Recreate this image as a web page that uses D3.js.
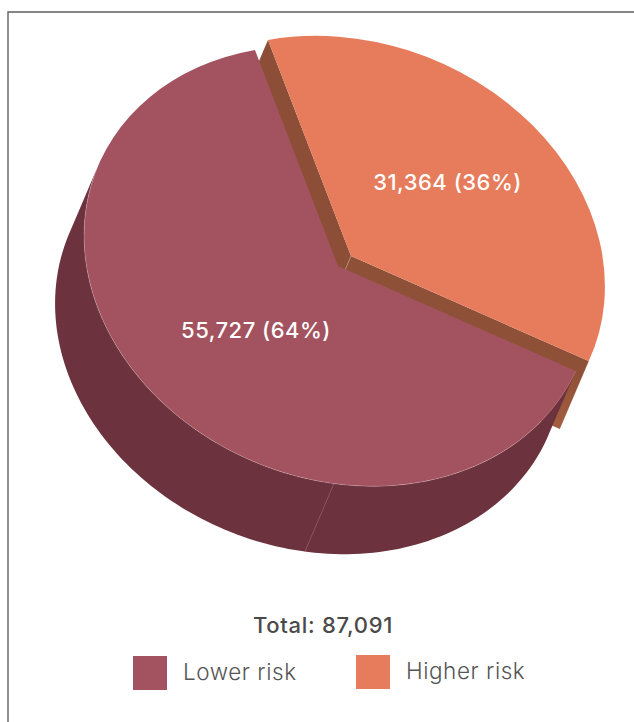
<!DOCTYPE html>
<html>
<head>
<meta charset="utf-8">
<script src="https://cdn.jsdelivr.net/npm/d3@7"></script>
<style>
  html, body { margin: 0; padding: 0; background: #fff; }
  svg { display: block; }
  text { font-family: Inter, "Open Sans", sans-serif; }
</style>
</head>
<body>
<svg id="chart" width="634" height="722"></svg>
<script>
// Patients by risk group
const categories = ["Higher risk", "Lower risk"];
const values = [31364, 55727];
const totalLabel = "Total: 87,091";
const legendOrder = ["Lower risk", "Higher risk"];

const topColors = ["#E67C5B", "#A35360"];
const wallColors = ["#8C4E36", "#6C323E"];
const labelRadii = [55, 47];
const labelNudge = [[-3.5, -2], [3.5, 3]];

// Tilted disc: the pie is laid out on a circle, then squashed and rotated.
const R = 100;
const tilt = 22;
const scaleX = 2.6, scaleY = 2.13;
const centre = [338, 266];
const explode = [[13, -10], [0, 0]];
const depth = [-29, 68];
const firstAngle = -37.4;
const seamAngle = 162.6 * Math.PI / 180;

const svg = d3.select("#chart");
const rad = tilt * Math.PI / 180;

const arcs = d3.pie()
  .sort(null)
  .value(d => d)
  .startAngle(firstAngle * Math.PI / 180)
  .endAngle((360 + firstAngle) * Math.PI / 180)(values);

const arc = d3.arc().innerRadius(0).outerRadius(R);
const total = d3.sum(values);
const fmt = d3.format(",");
const line = d3.line();

// Screen position of a pie angle at radius r for slice i, pushed down by k of the depth.
function project(angle, r, i, k = 0) {
  const x = Math.sin(angle) * r * scaleX;
  const y = -Math.cos(angle) * r * scaleY;
  return [
    centre[0] + explode[i][0] + x * Math.cos(rad) - y * Math.sin(rad) + depth[0] * k,
    centre[1] + explode[i][1] + x * Math.sin(rad) + y * Math.cos(rad) + depth[1] * k
  ];
}
const faceTransform = i =>
  `translate(${centre[0] + explode[i][0]},${centre[1] + explode[i][1]}) rotate(${tilt}) scale(${scaleX},${scaleY})`;

// Outer wall of a slice between the two silhouette angles of the disc.
function wallPoints(d, i) {
  const from = Math.max(d.startAngle, Math.PI / 2);
  const to = Math.min(d.endAngle, 3 * Math.PI / 2);
  if (to <= from) return null;
  const steps = d3.range(0, 121).map(s => from + (to - from) * s / 120);
  return steps.map(a => project(a, R, i))
    .concat(steps.slice().reverse().map(a => project(a, R, i, 1)));
}
// Cut face of a slice along one radial edge.
function cutPoints(angle, i) {
  return [project(0, 0, i), project(angle, R, i), project(angle, R, i, 1), project(0, 0, i, 1)];
}

const defs = svg.append("defs");
const tip = arcs[0].endAngle;
const grad = defs.append("linearGradient")
  .attr("id", "cutShade")
  .attr("gradientUnits", "userSpaceOnUse")
  .attr("x1", project(tip, R, 0)[0]).attr("y1", project(tip, R, 0)[1])
  .attr("x2", project(tip, R, 0, 1)[0]).attr("y2", project(tip, R, 0, 1)[1]);
grad.append("stop").attr("offset", 0.2).attr("stop-color", "#8F5038");
grad.append("stop").attr("offset", 0.95).attr("stop-color", "#A25D3E");

// Frame along the top and left edges
svg.append("path")
  .attr("d", line([[8, 722], [8, 12], [634, 12]]))
  .attr("fill", "none").attr("stroke", "#5f5f5f").attr("stroke-width", 1.4);

// Cut faces of the exploded slice sit behind everything else
svg.append("path").attr("d", line(cutPoints(arcs[0].startAngle, 0)) + "Z").attr("fill", wallColors[0]);
svg.append("path").attr("d", line(cutPoints(arcs[0].endAngle, 0)) + "Z").attr("fill", "url(#cutShade)");
svg.append("path")
  .attr("d", line([project(0, 0, 0), project(0, 0, 0, 1)]))
  .attr("stroke", "#c49a86").attr("stroke-width", 0.6).attr("fill", "none");

// Outer walls
arcs.forEach((d, i) => {
  const pts = wallPoints(d, i);
  if (pts) svg.append("path").attr("d", line(pts) + "Z").attr("fill", i === 0 ? "url(#cutShade)" : wallColors[i]);
});

// Seam on the wall of the large slice
svg.append("path")
  .attr("d", line([project(seamAngle, R, 1), project(seamAngle, R, 1, 1)]))
  .attr("stroke", "#a0616c").attr("stroke-width", 0.7).attr("fill", "none");

// Top faces
svg.selectAll("path.top")
  .data(arcs.slice().reverse())
  .join("path")
  .attr("class", "top")
  .attr("d", arc)
  .attr("transform", d => faceTransform(d.index))
  .attr("fill", d => topColors[d.index]);

// Fine highlight where the large slice's top meets its wall
{
  const d = arcs[1];
  const to = Math.PI * 1.5;
  const steps = d3.range(0, 121).map(s => d.startAngle + (to - d.startAngle) * s / 120);
  svg.append("path")
    .attr("d", line(steps.map(a => project(a, R, 1))))
    .attr("fill", "none").attr("stroke", "#d9b4ba").attr("stroke-width", 0.5).attr("stroke-opacity", 0.6);
}

// Value labels
const labelPos = d => {
  const p = project((d.startAngle + d.endAngle) / 2, labelRadii[d.index], d.index);
  return [p[0] + labelNudge[d.index][0], p[1] + labelNudge[d.index][1]];
};
svg.selectAll("text.value")
  .data(arcs)
  .join("text")
  .attr("class", "value")
  .attr("x", d => labelPos(d)[0])
  .attr("y", d => labelPos(d)[1] + 8)
  .attr("text-anchor", "middle")
  .attr("fill", "#fff")
  .attr("font-size", 22)
  .attr("font-weight", 500)
  .attr("letter-spacing", 0.5)
  .text(d => `${fmt(d.value)} (${Math.round(d.value / total * 100)}%)`);

// Total and legend
svg.append("text")
  .attr("x", 323).attr("y", 633)
  .attr("text-anchor", "middle")
  .attr("font-size", 22).attr("font-weight", 500).attr("fill", "#4a4a4a")
  .attr("letter-spacing", 0.7)
  .text(totalLabel);

const legendX = d3.scaleOrdinal().domain(legendOrder).range([133, 356]);
const legendY = d3.scaleOrdinal().domain(legendOrder).range([656, 655]);
const legend = svg.selectAll("g.legend")
  .data(legendOrder)
  .join("g")
  .attr("class", "legend")
  .attr("transform", d => `translate(${legendX(d)},${legendY(d)})`);
legend.append("rect")
  .attr("width", 34).attr("height", 34)
  .attr("fill", d => topColors[categories.indexOf(d)]);
legend.append("text")
  .attr("x", 50).attr("y", 24)
  .attr("font-size", 22.5).attr("font-weight", 300).attr("fill", "#555")
  .attr("letter-spacing", 0.55)
  .text(d => d);
</script>
</body>
</html>
